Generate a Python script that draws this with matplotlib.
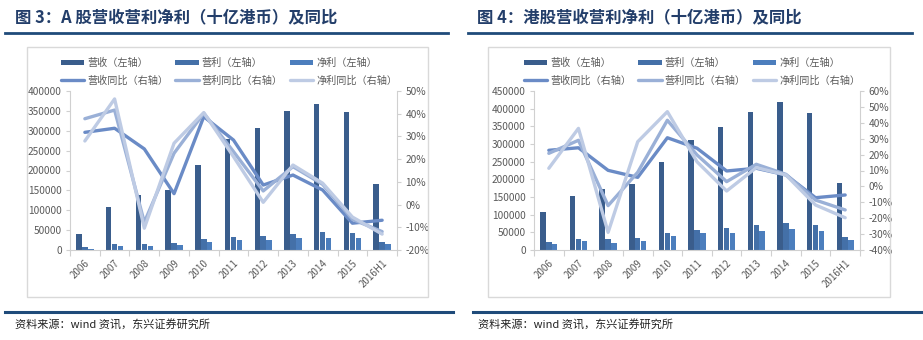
import numpy as np
import matplotlib
matplotlib.use("Agg")
import matplotlib.pyplot as plt
from matplotlib.patches import Rectangle
from matplotlib.lines import Line2D
from matplotlib.ticker import FuncFormatter, MultipleLocator

plt.rcParams['font.family'] = ['Noto Sans CJK SC', 'DejaVu Sans']

years = ['2006', '2007', '2008', '2009', '2010', '2011', '2012', '2013', '2014', '2015', '2016H1']

# Figure 3: A-shares
a_rev = [39500, 109000, 138000, 151000, 214000, 279000, 308000, 349000, 367000, 346000, 166000]
a_op = [6800, 15000, 14000, 17600, 27000, 32700, 35000, 41000, 45000, 42700, 21000]
a_net = [3300, 10900, 10000, 13400, 21000, 24000, 24500, 29000, 31000, 29000, 15000]
a_rev_yoy = [31.8, 33.6, 24.5, 4.8, 38.7, 28.4, 8.6, 13.0, 6.4, -8.2, -6.9]
a_op_yoy = [37.8, 41.6, -7.8, 22.6, 40.2, 23.3, 6.0, 16.7, 8.9, -6.5, -11.9]
a_net_yoy = [28.0, 46.5, -10.4, 27.0, 40.5, 21.1, 1.0, 17.4, 9.4, -5.5, -13.0]

# Figure 4: H-shares
h_rev = [106700, 152000, 172600, 187700, 250000, 311000, 348000, 390500, 418000, 387700, 188700]
h_op = [21800, 31000, 30000, 33000, 48000, 57500, 62000, 70800, 77300, 70800, 36000]
h_net = [16000, 25500, 19800, 26300, 39600, 47000, 48000, 53800, 58500, 53000, 27400]
h_rev_yoy = [22.7, 24.3, 10.1, 5.7, 30.6, 24.0, 9.7, 11.4, 7.2, -7.1, -5.4]
h_op_yoy = [20.8, 29.0, -12.1, 8.9, 41.6, 19.8, 3.0, 13.9, 7.6, -8.6, -14.8]
h_net_yoy = [11.4, 36.5, -28.9, 28.1, 47.0, 15.5, -2.9, 11.8, 7.2, -11.7, -19.7]

titles = ['图 3：A 股营收营利净利（十亿港币）及同比', '图 4：港股营收营利净利（十亿港币）及同比']
bar_labels = ['营收（左轴）', '营利（左轴）', '净利（左轴）']
line_labels = ['营收同比（右轴）', '营利同比（右轴）', '净利同比（右轴）']
source = '资料来源：wind 资讯，东兴证券研究所'

bar_colors = ['#3A5D8C', '#4470A8', '#4C7EBD']
line_colors = ['#6A8BC6', '#9AB0D7', '#BECBE4']
title_color = '#233E6A'
rule_color = '#1F4B7A'
tick_color = '#595959'
axis_gray = '#D0D0D0'

W, H = 923, 340
fig = plt.figure(figsize=(W / 100, H / 100), dpi=100)


def fx(px):
    return px / W


def fy(py):
    return 1 - py / H


panels = [
    dict(title=titles[0], tx=15, rule=(5, 448), box=(27, 47, 428, 297), ax=(70, 91, 397, 250),
         bars=(a_rev, a_op, a_net), lines=(a_rev_yoy, a_op_yoy, a_net_yoy),
         ylim=(0, 400000), ystep=50000, y2lim=(-20, 50), bottom_rule=(5, 453), src_x=15,
         leg_x=69),
    dict(title=titles[1], tx=477, rule=(468, 912), box=(488, 47, 890, 297), ax=(534, 91, 860, 250),
         bars=(h_rev, h_op, h_net), lines=(h_rev_yoy, h_op_yoy, h_net_yoy),
         ylim=(0, 450000), ystep=50000, y2lim=(-40, 60), bottom_rule=(473, 923), src_x=478,
         leg_x=532),
]

x = np.arange(len(years))
bw = 0.185
offs = [-0.2, 0.0, 0.2]

for p in panels:
    # title and rules
    fig.text(fx(p['tx']), fy(17), p['title'], fontsize=11.8, fontweight='bold', color=title_color,
             va='center', ha='left')
    fig.add_artist(Line2D([fx(p['rule'][0]), fx(p['rule'][1])], [fy(32.5), fy(32.5)], color=rule_color, lw=2))
    fig.add_artist(Line2D([fx(p['bottom_rule'][0]), fx(p['bottom_rule'][1])], [fy(312), fy(312)],
                          color=rule_color, lw=2.2))
    fig.text(fx(p['src_x']), fy(325), source, fontsize=8, style='italic', color='#222222', va='center', ha='left')
    # chart box
    x0, y0, x1, y1 = p['box']
    fig.add_artist(Rectangle((fx(x0), fy(y1)), fx(x1 - x0), (y1 - y0) / H, fill=False,
                             edgecolor='#D9D9D9', lw=1))

    a0, b0, a1, b1 = p['ax']
    ax = fig.add_axes([fx(a0), fy(b1), fx(a1 - a0), (b1 - b0) / H])
    ax.set_facecolor('none')
    ax2 = ax.twinx()

    bar_handles = []
    for vals, off, c, lab in zip(p['bars'], offs, bar_colors, bar_labels):
        h = ax.bar(x + off, vals, width=bw, color=c, label=lab, zorder=2)
        bar_handles.append(h)
    line_handles = []
    for vals, c, lab in zip(p['lines'], line_colors, line_labels):
        l, = ax2.plot(x, vals, color=c, lw=2.4, label=lab, solid_capstyle='round', zorder=3)
        line_handles.append(l)

    ax.set_xlim(-0.5, len(years) - 0.5)
    ax.set_ylim(*p['ylim'])
    ax.yaxis.set_major_locator(MultipleLocator(p['ystep']))
    ax.yaxis.set_major_formatter(FuncFormatter(lambda v, _: f'{int(v)}'))
    ax2.set_ylim(*p['y2lim'])
    ax2.yaxis.set_major_locator(MultipleLocator(10))
    ax2.yaxis.set_major_formatter(FuncFormatter(lambda v, _: f'{int(round(v))}%'))

    ax.set_xticks(x)
    ax.set_xticklabels(years, rotation=45, ha='right', rotation_mode='anchor')
    ax.set_xticks(np.arange(-0.5, len(years)), minor=True)
    ax.tick_params(axis='x', which='major', length=0, pad=6, labelsize=7, labelcolor=tick_color)
    ax.tick_params(axis='x', which='minor', length=4, color=axis_gray, width=0.8)
    ax.tick_params(axis='y', length=3, color=axis_gray, width=0.8, labelsize=7.3, labelcolor=tick_color, pad=3)
    ax2.tick_params(axis='y', length=3, color=axis_gray, width=0.8, labelsize=7.3, labelcolor=tick_color, pad=3)

    for a in (ax, ax2):
        a.spines['top'].set_visible(False)
        for s in ('left', 'right', 'bottom'):
            a.spines[s].set_color(axis_gray)
            a.spines[s].set_linewidth(0.8)
    ax.spines['right'].set_visible(False)
    ax2.spines['left'].set_visible(False)
    ax2.spines['bottom'].set_visible(False)

    handles = bar_handles + line_handles
    labels = bar_labels + line_labels
    # reorder for row-wise filling with ncol=3
    order = [0, 3, 1, 4, 2, 5]
    leg = fig.legend([handles[i] for i in order], [labels[i] for i in order], ncol=3,
                     loc='upper left', bbox_to_anchor=(fx(p['leg_x'] - 8), fy(58)),
                     frameon=False, fontsize=7.3, handlelength=2.3, handleheight=0.5,
                     handletextpad=0.3, columnspacing=0.7, labelspacing=0.7,
                     borderaxespad=0, borderpad=0)
    for t in leg.get_texts():
        t.set_color(tick_color)

fig.savefig('out.png', dpi=100)
